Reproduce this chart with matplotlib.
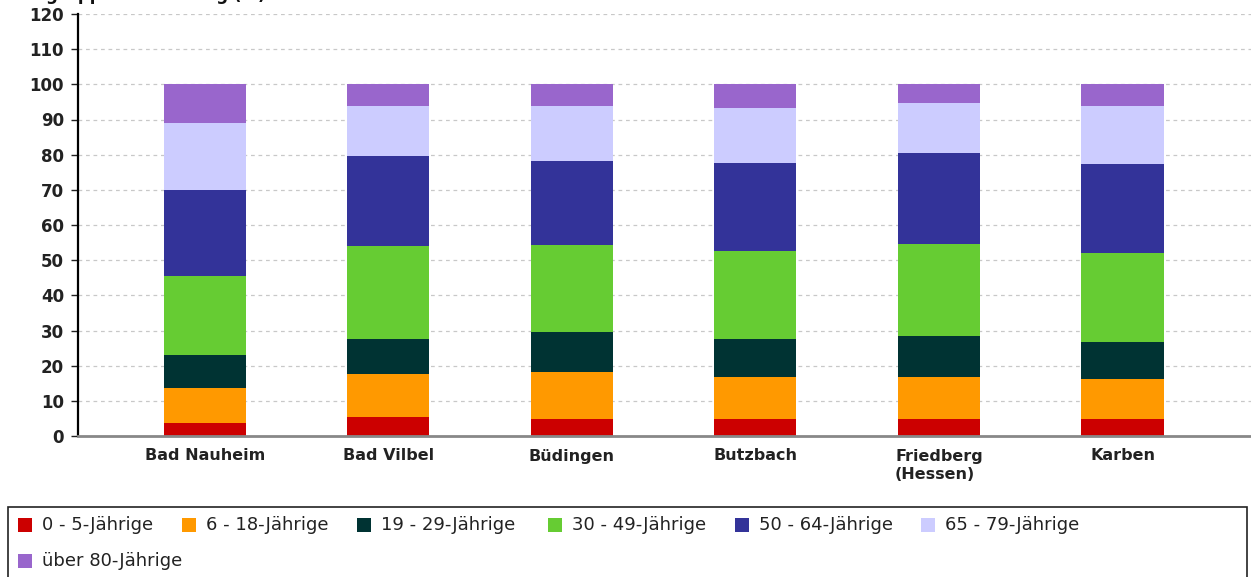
import matplotlib
matplotlib.use("Agg")
import matplotlib.pyplot as plt
from matplotlib.patches import Rectangle
import numpy as np

categories = ["Bad Nauheim", "Bad Vilbel", "Büdingen", "Butzbach", "Friedberg\n(Hessen)", "Karben"]
series_names = ["0 - 5-Jährige", "6 - 18-Jährige", "19 - 29-Jährige", "30 - 49-Jährige",
                "50 - 64-Jährige", "65 - 79-Jährige", "über 80-Jährige"]
age_0_5 = [3.8, 5.4, 4.9, 4.7, 4.9, 4.9]
age_6_18 = [9.8, 12.2, 13.3, 12.2, 12.0, 11.4]
age_19_29 = [9.4, 10.1, 11.4, 10.8, 11.4, 10.3]
age_30_49 = [22.6, 26.3, 24.7, 25.0, 26.2, 25.3]
age_50_64 = [24.4, 25.7, 24.0, 24.9, 25.9, 25.5]
age_65_79 = [19.0, 14.0, 15.4, 15.7, 14.4, 16.3]
age_80 = [11.0, 6.3, 6.3, 6.7, 5.2, 6.3]
series_values = [age_0_5, age_6_18, age_19_29, age_30_49, age_50_64, age_65_79, age_80]
colors = ["#CC0000", "#FF9900", "#003333", "#66CC33", "#333399", "#CCCCFF", "#9966CC"]
yticks = list(range(0, 121, 10))

W, H = 1251, 577
fig = plt.figure(figsize=(W / 100, H / 100), dpi=100)
ax = fig.add_axes([78 / W, 1 - 436 / H, 1 - 78 / W, (436 - 14) / H])

x = np.arange(len(categories))
bottom = np.zeros(len(categories))
for name, vals, c in zip(series_names, series_values, colors):
    vals = np.array(vals)
    ax.bar(x, vals, width=0.447, bottom=bottom, color=c, label=name, zorder=3)
    bottom += vals

ax.set_xlim(-0.69, 5.70)
ax.set_ylim(0, 120)
ax.set_yticks(yticks)
ax.set_xticks(x)
ax.set_xticklabels(categories, fontsize=11.5, fontweight="bold", color="#222222",
                   multialignment="left", linespacing=1.3)
ax.tick_params(axis="x", length=0, pad=9)
ax.tick_params(axis="y", length=5, width=1, direction="out", labelsize=12,
               colors="#222222", pad=5)
for lbl in ax.get_yticklabels():
    lbl.set_fontweight("bold")
ax.grid(axis="y", linestyle=(0, (3, 3)), color="#c8c8c8", linewidth=0.9, zorder=0)
ax.spines["top"].set_visible(False)
ax.spines["right"].set_visible(False)
ax.spines["left"].set_color("black")
ax.spines["left"].set_linewidth(1.6)
ax.spines["bottom"].set_color("#888888")
ax.spines["bottom"].set_linewidth(2)
ax.spines["bottom"].set_zorder(4)

# partially clipped title (as in the reference, only the lower part is visible)
fig.text(-10 / W, 1.0, "Altersgruppen Verteilung (%)", fontsize=12,
         fontweight="bold", va="baseline", ha="left", color="#111111")

# legend box with flow layout
fig.patches.append(Rectangle((8 / W, -0.01), (1247 - 8) / W, (577 - 507) / H + 0.01,
                             transform=fig.transFigure, fill=False,
                             edgecolor="#222222", linewidth=1.2))
legend_x = [18, 182, 357, 548, 735, 921, 18]
legend_y = [525, 525, 525, 525, 525, 525, 561]
sq = 14
for name, c, lx, ly in zip(series_names, colors, legend_x, legend_y):
    fig.patches.append(Rectangle((lx / W, 1 - (ly + sq / 2) / H), sq / W, sq / H,
                                 transform=fig.transFigure, facecolor=c,
                                 edgecolor="none"))
    fig.text((lx + sq + 10) / W, 1 - ly / H, name, fontsize=13, va="center",
             ha="left", color="#222222")

fig.savefig("out.png", dpi=100)
